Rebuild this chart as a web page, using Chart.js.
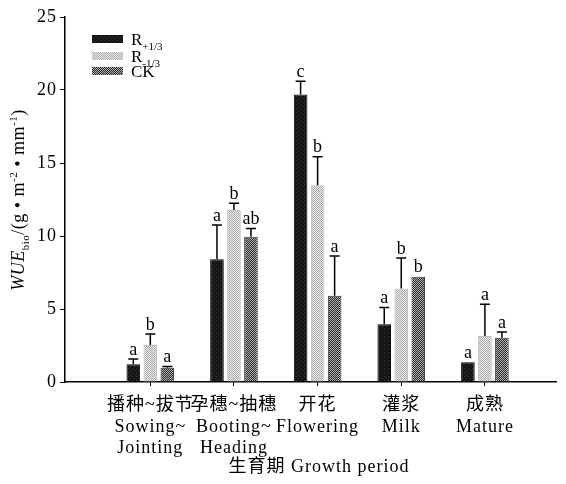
<!DOCTYPE html>
<html>
<head>
<meta charset="utf-8">
<script src="https://cdn.jsdelivr.net/npm/chart.js@4.4.0/dist/chart.umd.min.js"></script>
<style>
  html, body { margin: 0; padding: 0; background: #fff; }
</style>
</head>
<body>
<canvas id="wueChart" width="566" height="484"></canvas>
<script>
// Growth periods (x categories, one label line per array entry)
var periodLabels = [
    ['播种~拔节', 'Sowing~', 'Jointing'],
    ['孕穗~抽穗', 'Booting~', 'Heading'],
    ['开花', 'Flowering'],
    ['灌浆', 'Milk'],
    ['成熟', 'Mature']
];
var periodPos = [1, 2, 3, 4, 5];

// WUE_bio values, standard errors and significance letters
var rPlus = [1.22, 8.4, 19.7, 3.95, 1.35];
var rPlusErr = [0.35, 2.35, 0.9, 1.15, 0];
var rPlusSig = ['a', 'a', 'c', 'a', 'a'];

var rMinus = [2.53, 11.78, 13.47, 6.4, 3.15];
var rMinusErr = [0.75, 0.46, 1.96, 2.1, 2.17];
var rMinusSig = ['b', 'b', 'b', 'b', 'a'];

var ck = [0.97, 9.95, 5.91, 7.21, 3.03];
var ckErr = [0.1, 0.57, 2.72, 0, 0.39];
var ckSig = ['a', 'ab', 'a', 'b', 'a'];

var yTicks = [0, 5, 10, 15, 20, 25];

var serif = "'Liberation Serif', 'Noto Sans CJK SC', serif";

// little tiles to mimic the printed fills
function makePattern(kind) {
    var c = document.createElement('canvas');
    c.width = 4; c.height = 4;
    var g = c.getContext('2d');
    if (kind === 'dark') {
        g.fillStyle = '#151515'; g.fillRect(0, 0, 4, 4);
        g.fillStyle = '#3a3a3a'; g.fillRect(0, 0, 1, 1); g.fillRect(2, 2, 1, 1);
    } else if (kind === 'light') {
        g.fillStyle = '#eeeeee'; g.fillRect(0, 0, 4, 4);
        g.fillStyle = '#a8a8a8';
        g.fillRect(0, 0, 1, 1); g.fillRect(2, 0, 1, 1); g.fillRect(1, 1, 1, 1); g.fillRect(3, 1, 1, 1);
        g.fillRect(0, 2, 1, 1); g.fillRect(2, 2, 1, 1); g.fillRect(1, 3, 1, 1); g.fillRect(3, 3, 1, 1);
    } else {
        g.fillStyle = '#b0b0b0'; g.fillRect(0, 0, 4, 4);
        g.fillStyle = '#2a2a2a';
        for (var i = 0; i < 4; i++) { g.fillRect(i, 3 - i, 1, 1); g.fillRect((i + 2) % 4, 3 - i, 1, 1); }
    }
    return g.createPattern(c, 'repeat');
}

var fills = [makePattern('dark'), makePattern('light'), makePattern('hatch')];

function toPoints(vals) {
    return vals.map(function (v, i) { return { x: periodPos[i], y: v }; });
}

var errs = [rPlusErr, rMinusErr, ckErr];
var sigs = [rPlusSig, rMinusSig, ckSig];

// the printed labels are a bit spread out
var spacingPlugin = {
    id: 'spacing',
    beforeDraw: function (chart) { chart.ctx.letterSpacing = '1px'; }
};

// error bars + letters above each bar
var errorBarPlugin = {
    id: 'errorBars',
    afterDatasetsDraw: function (chart) {
        var ctx = chart.ctx;
        var yScale = chart.scales.y;
        ctx.save();
        ctx.strokeStyle = '#000';
        ctx.fillStyle = '#000';
        ctx.lineWidth = 1.5;
        ctx.letterSpacing = '0px';
        ctx.font = '18px ' + serif;
        ctx.textAlign = 'center';
        ctx.textBaseline = 'bottom';
        chart.data.datasets.forEach(function (ds, i) {
            var meta = chart.getDatasetMeta(i);
            meta.data.forEach(function (bar, j) {
                var err = errs[i][j];
                var top = bar.y;
                if (err > 0) {
                    top = yScale.getPixelForValue(ds.data[j].y + err);
                    ctx.beginPath();
                    ctx.moveTo(bar.x, bar.y);
                    ctx.lineTo(bar.x, top);
                    ctx.moveTo(bar.x - 5, top);
                    ctx.lineTo(bar.x + 5, top);
                    ctx.stroke();
                }
                ctx.fillText(sigs[i][j], bar.x, top);
            });
        });
        ctx.restore();
    }
};

// draws a run of text pieces with sub/superscripts
function runFont(r, base) {
    var size = r.s ? Math.round(base * 0.62) : base;
    return (r.i ? 'italic ' : '') + size + 'px ' + serif;
}
function drawRuns(ctx, runs, x, y, base) {
    runs.forEach(function (r) {
        ctx.font = runFont(r, base);
        var dy = r.s === 'sub' ? 5 : (r.s === 'sup' ? -7 : 0);
        ctx.fillText(r.t, x, y + dy);
        x += ctx.measureText(r.t).width;
    });
    return x;
}
function runsWidth(ctx, runs, base) {
    var w = 0;
    runs.forEach(function (r) {
        ctx.font = runFont(r, base);
        w += ctx.measureText(r.t).width;
    });
    return w;
}

var legendNames = [
    [{ t: 'R' }, { t: '+1/3', s: 'sub' }],
    [{ t: 'R' }, { t: '-1/3', s: 'sub' }],
    [{ t: 'CK' }]
];
var yTitle = [
    { t: 'WUE', i: true }, { t: 'bio', s: 'sub' }, { t: '/(g • m' }, { t: '-2', s: 'sup' },
    { t: ' • mm' }, { t: '-1', s: 'sup' }, { t: ')' }
];
var xTitle = '生育期 Growth period';

var annotatePlugin = {
    id: 'annotate',
    afterDraw: function (chart) {
        var ctx = chart.ctx;
        ctx.save();
        ctx.fillStyle = '#000';
        ctx.textBaseline = 'alphabetic';
        ctx.textAlign = 'left';
        ctx.letterSpacing = '0px';
        // legend
        var rows = [35, 52, 67];
        legendNames.forEach(function (name, i) {
            ctx.fillStyle = fills[i];
            ctx.fillRect(92, rows[i], 31, 8);
            ctx.fillStyle = '#000';
            drawRuns(ctx, name, 131, rows[i] + 10, 17);
        });
        // x axis title
        ctx.letterSpacing = '1px';
        ctx.font = '18px ' + serif;
        ctx.textAlign = 'center';
        ctx.textBaseline = 'middle';
        ctx.fillText(xTitle, 319, 467);
        // y axis title, rotated
        ctx.letterSpacing = '0.5px';
        ctx.textAlign = 'left';
        ctx.textBaseline = 'alphabetic';
        ctx.translate(24, 200);
        ctx.rotate(-Math.PI / 2);
        var w = runsWidth(ctx, yTitle, 18);
        drawRuns(ctx, yTitle, -w / 2, 0, 18);
        ctx.restore();
    }
};

var ctx = document.getElementById('wueChart').getContext('2d');

var myChart = new Chart(ctx, {
    type: 'bar',
    data: {
        datasets: [
            { label: 'R+1/3', data: toPoints(rPlus), backgroundColor: fills[0], borderColor: '#000', borderWidth: 1 },
            { label: 'R-1/3', data: toPoints(rMinus), backgroundColor: fills[1], borderColor: '#bbb', borderWidth: 1 },
            { label: 'CK', data: toPoints(ck), backgroundColor: fills[2], borderColor: '#333', borderWidth: 1 }
        ]
    },
    options: {
        responsive: false,
        animation: false,
        categoryPercentage: 0.61,
        barPercentage: 0.8,
        layout: { padding: { top: 17, right: 10, left: 0, bottom: 0 } },
        plugins: {
            legend: { display: false },
            tooltip: { enabled: false }
        },
        scales: {
            x: {
                type: 'linear',
                min: -0.02,
                max: 5.85,
                offset: false,
                afterBuildTicks: function (scale) {
                    scale.ticks = periodPos.map(function (v) { return { value: v }; });
                },
                afterFit: function (scale) { scale.height = 102; },
                grid: { offset: false, drawOnChartArea: false, drawTicks: true, tickLength: 4, color: '#000' },
                border: { display: true, color: '#000', width: 1.5 },
                ticks: {
                    autoSkip: false,
                    maxRotation: 0,
                    padding: 9,
                    color: '#000',
                    font: { family: serif, size: 18, lineHeight: 1.18 },
                    callback: function (value, index) { return periodLabels[index]; }
                }
            },
            y: {
                min: 0,
                max: 25,
                afterBuildTicks: function (scale) {
                    scale.ticks = yTicks.map(function (v) { return { value: v }; });
                },
                afterFit: function (scale) { scale.width = 65; },
                grid: { drawOnChartArea: false, drawTicks: true, tickLength: 5, color: '#000' },
                border: { display: true, color: '#000', width: 1.5 },
                ticks: {
                    padding: 3,
                    color: '#000',
                    font: { family: serif, size: 18 }
                }
            }
        }
    },
    plugins: [spacingPlugin, errorBarPlugin, annotatePlugin]
});
</script>
</body>
</html>
